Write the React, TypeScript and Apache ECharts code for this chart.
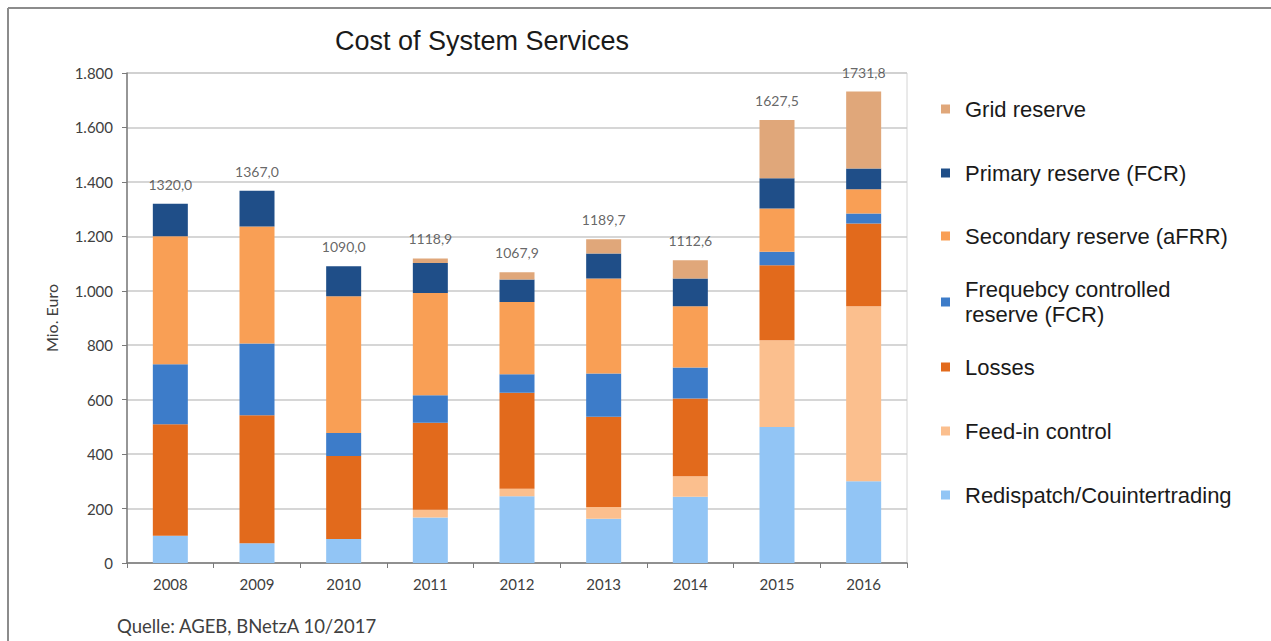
import React, { useEffect, useRef } from "react";
import * as echarts from "echarts";

const years = ["2008", "2009", "2010", "2011", "2012", "2013", "2014", "2015", "2016"];
const redispatch = [100, 73, 88, 167, 245, 163, 243, 500, 300];
const feedIn = [0, 0, 0, 29, 28, 43, 76, 318, 643];
const losses = [410, 470, 305, 319, 352, 331, 285, 276, 304];
const freqControlled = [220, 263, 85, 101, 68, 159, 114, 49, 37];
const secondary = [470, 430, 502, 376, 266, 349, 225, 159, 89];
const primary = [120, 131, 110, 110, 82, 92, 102, 111, 76];
const gridReserve = [0, 0, 0, 16.9, 26.9, 52.7, 67.6, 214.5, 282.8];
const totals = [1320.0, 1367.0, 1090.0, 1118.9, 1067.9, 1189.7, 1112.6, 1627.5, 1731.8];

const seriesNames = [
  "Redispatch/Couintertrading",
  "Feed-in control",
  "Losses",
  "Frequebcy controlled reserve (FCR)",
  "Secondary reserve (aFRR)",
  "Primary reserve (FCR)",
  "Grid reserve",
];
const seriesData = [redispatch, feedIn, losses, freqControlled, secondary, primary, gridReserve];
const seriesColors = ["#92c5f5", "#fbbf8e", "#e26a1c", "#3d7cc9", "#f99f55", "#1f4e88", "#e0a77a"];

const legendOrder = [
  "Grid reserve",
  "Primary reserve (FCR)",
  "Secondary reserve (aFRR)",
  "Frequebcy controlled reserve (FCR)",
  "Losses",
  "Feed-in control",
  "Redispatch/Couintertrading",
];
const legendCenters = [109, 173, 236, 302, 367, 431, 495];

const TXT = "#404040";

export default function App() {
  const ref = useRef<HTMLDivElement>(null);
  useEffect(() => {
    if (!ref.current) return;
    const chart = echarts.init(ref.current, null, { renderer: "svg" });
    const lh = 25;
    const fmtLegend = (n: string) =>
      n === "Frequebcy controlled reserve (FCR)" ? "Frequebcy controlled\nreserve (FCR)" : n;
    const option: any = {
      animation: false,
      backgroundColor: "#ffffff",
      title: {
        text: "Cost of System Services",
        left: 330,
        top: 22,
        textStyle: { fontFamily: "Liberation Sans", fontSize: 27, fontWeight: "normal", color: "#1a1a1a" },
      },
      grid: {
        left: 127,
        top: 73,
        right: 364,
        bottom: 78,
        show: true,
        borderColor: "#d4d4d4",
        borderWidth: 1,
      },
      legend: legendOrder.map((name, i) => {
        const lines = fmtLegend(name).split("\n").length;
        return {
          data: [name],
          orient: "vertical",
          left: 941,
          top: legendCenters[i] - (lines * lh) / 2,
          padding: 0,
          itemWidth: 9,
          itemHeight: 9,
          icon: "rect",
          selectedMode: false,
          formatter: fmtLegend,
          textStyle: {
            fontFamily: "Liberation Sans",
            fontSize: 22,
            lineHeight: lh,
            color: "#1a1a1a",
            padding: [0, 0, 0, 10],
          },
        };
      }),
      xAxis: {
        type: "category",
        data: years,
        axisLine: { lineStyle: { color: "#7a7a7a", width: 1.5 } },
        axisTick: { show: true, length: 5, lineStyle: { color: "#7a7a7a" } },
        axisLabel: { fontFamily: "Lato", fontSize: 15, color: TXT, margin: 13 },
      },
      yAxis: {
        type: "value",
        min: 0,
        max: 1800,
        interval: 200,
        name: "Mio. Euro",
        nameLocation: "middle",
        nameGap: 68,
        nameTextStyle: { fontFamily: "Lato", fontSize: 16, color: TXT },
        axisLine: { show: true, lineStyle: { color: "#7a7a7a", width: 1.5 } },
        axisTick: { show: true, length: 5, lineStyle: { color: "#7a7a7a" } },
        axisLabel: {
          fontFamily: "Lato",
          fontSize: 15,
          color: TXT,
          margin: 14,
          formatter: (v: number) => String(v).replace(/\B(?=(\d{3})+(?!\d))/g, "."),
        },
        splitLine: { lineStyle: { color: "#c8c8c8", width: 1.5 } },
      },
      series: [
        ...seriesNames.map((name, i) => ({
          name,
          type: "bar",
          stack: "total",
          barWidth: 35,
          data: seriesData[i],
          itemStyle: { color: seriesColors[i] },
        })),
        {
          name: "Total",
          type: "scatter",
          data: totals,
          symbolSize: 1,
          itemStyle: { color: "rgba(0,0,0,0)" },
          label: {
            show: true,
            position: "top",
            distance: 12,
            fontFamily: "Lato",
            fontSize: 14,
            color: TXT,
            formatter: (p: any) => p.value.toFixed(1).replace(".", ","),
          },
          z: 5,
        },
      ],
      graphic: [
        { type: "line", shape: { x1: 8, y1: 8, x2: 1271, y2: 8 }, style: { stroke: "#8c8c8c", lineWidth: 2 } },
        { type: "line", shape: { x1: 8, y1: 8, x2: 8, y2: 641 }, style: { stroke: "#8c8c8c", lineWidth: 2 } },
        {
          type: "text",
          x: 117,
          y: 626,
          style: {
            text: "Quelle: AGEB, BNetzA 10/2017",
            fontFamily: "Lato",
            fontSize: 18.5,
            fill: TXT,
            verticalAlign: "middle",
          },
        },
      ],
    };
    chart.setOption(option);
    return () => chart.dispose();
  }, []);
  return (
    <div
      ref={ref}
      style={{ position: "fixed", left: 0, top: 0, width: "1271px", height: "641px" }}
    />
  );
}
